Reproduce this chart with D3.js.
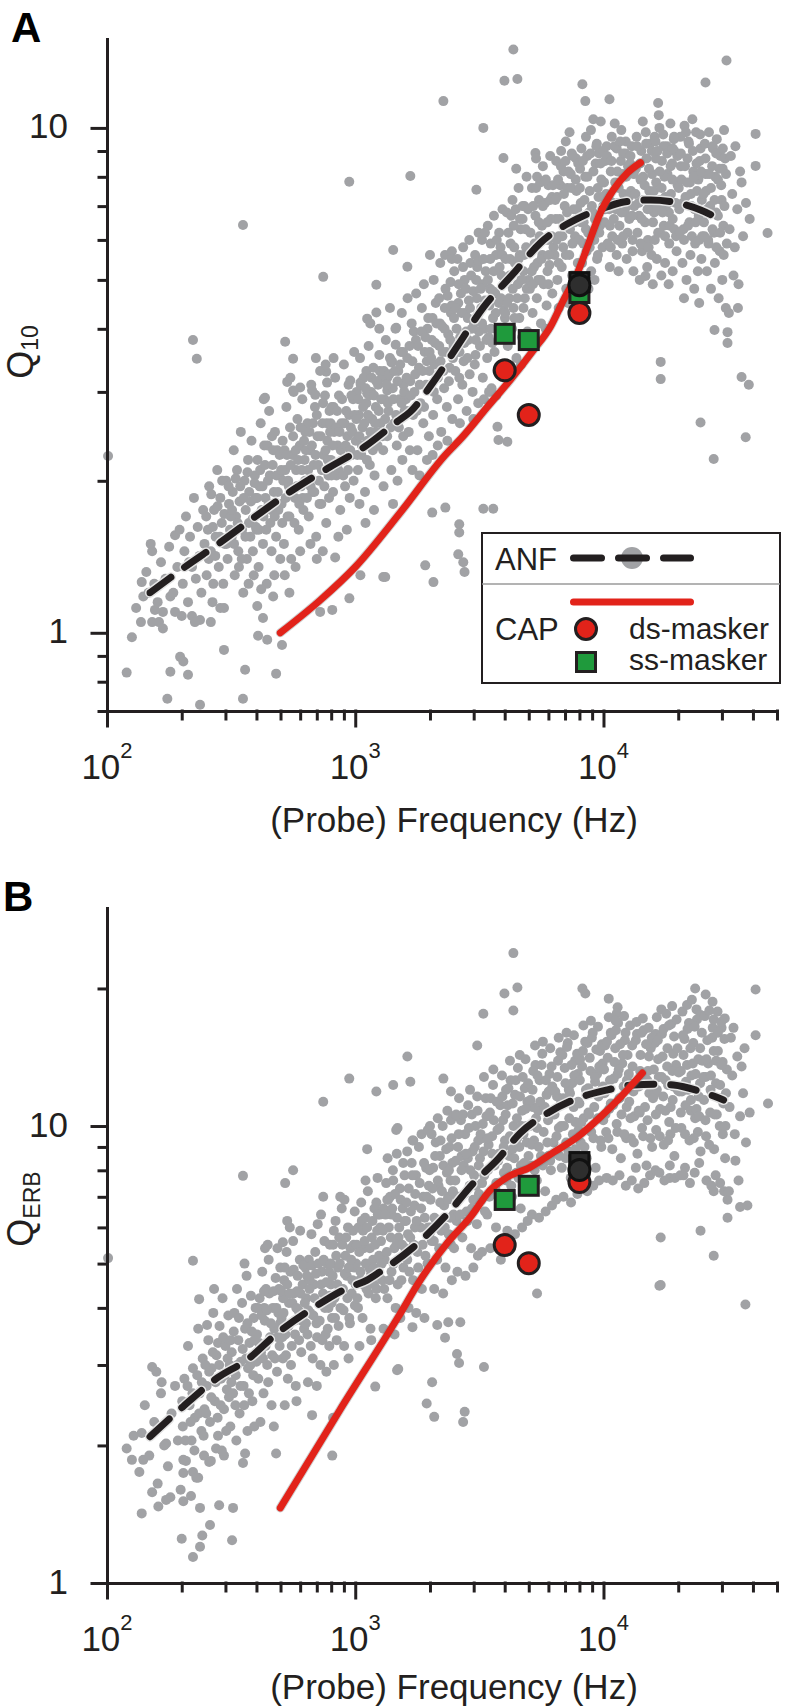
<!DOCTYPE html>
<html><head><meta charset="utf-8">
<script src="https://cdn.jsdelivr.net/npm/d3@7"></script>
<style>
body{margin:0;background:#fff;}
svg{display:block;font-family:"Liberation Sans",Arial,Helvetica,sans-serif;}
</style></head><body>
<svg id="chart" width="786" height="1708"></svg>
<script>
// ---------------- DATA ----------------
const xTicksMajor = [100, 1000, 10000];
const xTickExponents = ["2", "3", "4"];
const xTicksMinor = [200,300,400,500,600,700,800,900,2000,3000,4000,5000,6000,7000,8000,9000,20000,30000,40000,50000];
const yTicksMajor = [1, 10];
const yTicksMinorA = [0.7,0.8,0.9,2,3,4,5,6,7,8,9];
const yTicksMinorB = [2,3,4,5,6,7,8,9,20];

// ANF smoothed trend (dashed) and CAP fit (red) : [frequency Hz, Q]
const anfTrendA = [[149,1.2],[206,1.35],[286,1.51],[403,1.71],[562,1.92],[778,2.12],[1096,2.34],[1476,2.62],[1667,2.74],[2065,3.14],[2600,3.72],[3281,4.41],[4295,5.12],[5572,5.92],[7855,6.61],[10380,6.98],[12050,7.13],[15490,7.2],[19140,7.13],[24600,6.88],[29630,6.58]];
const capFitA = [[499,1.0],[722,1.16],[1000,1.35],[1518,1.73],[2306,2.25],[2698,2.44],[3404,2.8],[4217,3.17],[5222,3.63],[6113,4.04],[6900,4.56],[7855,5.16],[8610,5.81],[9727,6.8],[10970,7.54],[12500,8.15],[14100,8.53]];
const anfTrendB = [[149,2.09],[202,2.43],[278,2.81],[367,3.08],[485,3.52],[678,4.0],[929,4.42],[1117,4.6],[1260,4.8],[1713,5.43],[2349,6.42],[2992,7.5],[3740,8.44],[4624,9.66],[5942,10.67],[7855,11.5],[10380,12.0],[13210,12.3],[16500,12.35],[19140,12.3],[24600,11.9],[30460,11.4]];
const capFitB = [[499,1.46],[871,2.4],[1489,3.82],[1828,4.6],[2349,5.55],[2909,6.32],[3500,7.24],[4100,7.73],[5080,8.13],[6310,8.77],[7855,9.46],[9727,10.47],[11720,11.57],[14350,13.06]];

// CAP markers
const dsMaskerA = [[4000,3.31],[5000,2.70],[8000,4.30]];
const ssMaskerA = [[4000,3.91],[5000,3.80],[8000,4.71]];
const darkSquareA = [[8000,4.95]];
const darkCircleA = [[8000,4.88]];
const dsMaskerB = [[4000,5.49],[5000,5.01],[8000,7.54]];
const ssMaskerB = [[4000,6.89],[5000,7.40],[8000,8.2]];
const darkSquareB = [[8000,8.34]];
const darkCircleB = [[8000,8.01]];

// ANF single-fibre Q10 values
const anfQ10 = [
[946,7.82],[353,6.42],[1422,5.73],[743,5.07],[1216,4.89],[1216,4.31],[1117,4.19],[1462,4.02],[222,3.8],[230,3.49],[522,3.77],[562,3.49],[1250,3.55],[1455,3.72],[764,3.29],[1109,3.3],[532,3.14],[770,3.13],[955,3.16],[433,2.92],[562,3.02],[600,3.06],[670,3.02],[690,2.96],[1050,3.13],[1117,2.98],[1346,3.2],[1400,3.43],[1346,3.02],
[4335,14.3],[3990,12.4],[4500,12.5],[2265,11.3],[8222,12.2],[8450,11.3],[10570,11.4],[31300,13.6],[25760,12.3],[3281,10],[1667,8.03],[3076,7.54],[3953,8.72],[5321,8.92],[1622,5.31],[2000,5.6],[2300,5.6],[2450,5.7],[41000,9.73],[41000,8.41],[45800,6.19],[38800,6.6],[36000,3.21],[38500,3.1],[17000,3.44],[17000,3.18],[14760,5.09],[28000,3.98],[31600,3.94],[31600,3.75],[16070,9.6],
[24600,2.61],[37400,2.44],[27800,2.21],[3740,2.56],[3775,2.41],[4100,2.39],[2307,1.77],[2042,1.73],[3281,1.76],[3597,1.76],[2624,1.64],[2624,1.58],[2600,1.43],[2724,1.38],[2756,1.32],[1914,1.36],[2065,1.26],[1297,1.29],
[101,2.24],[126,0.98],[120,0.834],[152,1.45],[138,1.26],[140,1.18],[152,1.05],[168,1.1],[162,1.05],[168,1.02],[156,1.11],[180,1.18],[188,1.56],[200,1.08],[220,1.08],[237,1.06],[262,1.05],[197,0.896],[203,0.877],[212,0.826],[180,0.837],[175,0.74],[237,0.72],[296,0.925],[286,1.12],[360,0.845],[353,0.74],[406,0.987],[442,0.969],[480,0.83],[507,0.946],[403,1.13],[425,1.07],[467,1.18],[543,1.2],[722,1.1],[808,1.11],[947,1.17],[1049,1.3],[1321,1.29],[830,1.41],
[131,1.12],[137,1.05],[144,1.32],[147,1.2],[150,1.5],[155,1.25],[160,1.15],[165,1.38],[172,1.28],[178,1.48],[185,1.2],[192,1.35],[196,1.6],[188,1.1],
[202,1.25],[205,1.45],[208,1.7],[212,1.15],[216,1.55],[220,1.35],[224,1.85],[228,1.28],[232,1.62],[236,1.42],[240,1.2],[244,1.75],[247,1.5],[226,1.05],[214,1.38],
[252,1.3],[255,1.6],[258,1.95],[262,1.45],[266,1.15],[270,1.75],[274,1.55],[278,2.1],[282,1.35],[286,1.85],[290,1.65],[294,1.25],[298,1.5],[302,2.0],[306,1.4],[310,1.8],[313,1.6],[268,1.25],[296,1.12],
[318,1.55],[321,1.9],[324,2.3],[327,1.3],[331,1.7],[334,2.1],[338,1.45],[342,1.82],[346,2.5],[350,1.6],[354,1.2],[358,2.0],[362,1.75],[366,1.4],[370,2.2],[374,1.9],[378,1.55],[382,2.4],[386,1.68],[390,1.3],[394,2.05],[397,1.85],[340,1.35],[372,1.25],
[400,1.6],[404,2.2],[408,1.35],[412,1.95],[416,2.6],[420,1.75],[425,1.5],[430,2.35],[435,1.85],[440,1.25],[445,2.0],[450,2.75],[455,1.65],[460,1.45],[465,2.15],[470,1.9],[475,2.5],[480,1.55],[485,2.3],[490,1.75],[495,2.05],[499,1.4],[428,2.9],[462,2.45],[418,1.22],[472,1.3],
[505,1.8],[510,2.4],[516,1.5],[522,2.1],[528,2.8],[534,1.7],[540,1.95],[546,2.55],[552,1.4],[558,2.25],[565,3.0],[572,1.85],[578,2.1],[585,2.65],[592,1.6],[598,2.35],[605,1.95],[612,2.9],[618,1.75],[625,2.2],[630,2.5],[548,3.2],[520,1.3],[600,1.45],[575,1.35],
[635,2.0],[642,2.6],[650,1.7],[658,2.3],[665,3.1],[672,1.9],[680,2.15],[688,2.8],[696,1.55],[705,2.45],[714,2.0],[722,3.3],[730,1.8],[738,2.6],[746,2.25],[755,2.95],[764,1.65],[772,2.4],[780,2.05],[788,2.75],[700,1.4],[740,1.45],[660,1.5],[694,3.5],[760,3.4],
[798,2.2],[805,2.8],[814,1.9],[822,2.5],[830,3.2],[840,2.05],[850,2.35],[860,2.95],[870,1.75],[880,2.6],[890,2.2],[900,3.4],[910,1.95],[920,2.75],[930,2.45],[940,3.1],[950,1.85],[960,2.55],[970,2.25],[980,2.9],[990,3.6],[855,1.55],[925,1.6],[985,2.0],[818,3.5],
[1005,2.4],[1015,3.0],[1025,2.1],[1035,2.7],[1045,3.5],[1058,2.25],[1070,2.55],[1082,3.2],[1095,1.9],[1108,2.85],[1120,2.4],[1132,3.7],[1145,2.15],[1158,3.0],[1170,2.65],[1183,3.35],[1196,2.05],[1210,2.8],[1222,2.5],[1236,3.1],[1250,4.0],[1100,1.65],[1190,1.75],[1040,1.8],[1150,4.1],
[1265,2.6],[1280,3.2],[1296,2.3],[1312,2.9],[1328,3.8],[1345,2.45],[1362,2.75],[1380,3.5],[1398,2.1],[1416,3.05],[1434,2.6],[1452,4.0],[1470,2.35],[1490,3.3],[1508,2.9],[1528,3.6],[1548,2.2],[1566,3.1],[1580,2.75],[1300,1.95],[1420,1.8],[1540,4.3],[1380,4.4],[1480,2.0],[1560,2.45],
[1600,2.9],[1620,3.5],[1642,2.5],[1665,3.15],[1688,4.1],[1710,2.7],[1732,3.0],[1756,3.8],[1780,2.3],[1805,3.35],[1830,2.85],[1855,4.4],[1880,2.6],[1905,3.6],[1930,3.1],[1955,4.0],[1980,2.45],[1990,3.3],[1700,2.1],[1815,2.05],[1945,2.2],[1625,4.6],[1760,4.7],[1890,4.9],[1660,2.3],
[2010,3.1],[2035,3.8],[2060,2.7],[2085,3.4],[2110,4.5],[2138,2.9],[2165,3.25],[2192,4.1],[2220,2.5],[2250,3.6],[2280,3.05],[2310,4.8],[2340,2.8],[2370,3.9],[2400,3.35],[2430,4.3],[2460,2.65],[2490,3.7],[2505,5.2],[2070,5.0],[2200,5.4],[2350,2.4],[2150,2.35],[2450,5.5],[2050,2.25],[2290,4.0],[2180,3.7],[2420,4.95],
[2530,3.3],[2560,4.0],[2595,2.9],[2630,3.6],[2665,4.7],[2700,3.1],[2735,3.45],[2770,4.3],[2810,2.75],[2850,3.8],[2890,3.25],[2930,5.1],[2970,3.0],[3010,4.1],[3050,3.55],[3090,4.6],[3130,2.85],[3150,3.95],[2580,5.5],[2720,5.8],[2880,6.0],[3040,5.6],[2640,2.6],[2990,2.65],[2760,5.0],[2900,4.4],[3100,5.3],[2600,4.5],[2800,3.95],[3140,6.2],
[3180,3.7],[3220,4.4],[3265,3.2],[3310,4.0],[3355,5.2],[3400,3.5],[3445,3.85],[3490,4.8],[3540,3.05],[3590,4.2],[3640,3.6],[3690,5.6],[3740,3.3],[3790,4.5],[3840,3.95],[3890,5.1],[3940,3.4],[3970,4.35],[3240,6.0],[3420,6.4],[3620,6.7],[3800,6.2],[3300,2.9],[3700,2.95],[3500,5.5],[3580,4.75],[3850,5.8],[3250,4.9],[3460,3.0],[3920,6.9],
[4010,4.2],[4060,5.0],[4115,3.7],[4170,4.6],[4225,5.9],[4280,4.0],[4340,4.4],[4400,5.4],[4460,3.5],[4520,4.9],[4580,4.2],[4640,6.3],[4700,3.85],[4760,5.2],[4820,4.6],[4880,5.8],[4940,3.95],[4990,5.0],[4080,6.8],[4300,7.2],[4550,7.6],[4800,7.0],[4150,3.3],[4650,3.4],[4350,6.4],[4900,8.0],[4450,8.3],[4720,6.6],[4200,5.5],[4600,5.6],
[5050,4.8],[5110,5.7],[5180,4.3],[5250,5.3],[5320,6.7],[5390,4.6],[5460,5.0],[5530,6.1],[5600,4.1],[5670,5.6],[5740,4.9],[5820,7.1],[5900,4.45],[5980,6.0],[6060,5.35],[6140,6.6],[6220,4.7],[6290,5.8],[5150,7.6],[5400,8.0],[5700,8.4],[6000,7.7],[5250,3.9],[5850,4.0],[5500,7.2],[6100,8.8],[5350,8.7],[5950,5.2],[6200,7.3],[5650,6.4],
[6350,5.6],[6430,6.6],[6520,5.0],[6610,6.1],[6700,7.7],[6790,5.3],[6880,5.8],[6980,7.0],[7080,4.8],[7180,6.4],[7280,5.6],[7380,8.1],[7480,5.1],[7580,6.9],[7680,6.1],[7780,7.5],[7880,5.4],[7930,6.6],[6450,8.6],[6750,9.0],[7050,9.4],[7450,8.9],[6600,4.4],[7200,4.5],[7600,4.9],[6900,8.2],[7300,9.8],[7750,8.7],[6500,7.3],[7150,7.6],
[8000,6.0],[8100,7.1],[8200,5.4],[8320,6.5],[8440,8.0],[8560,5.7],[8680,6.2],[8800,7.5],[8920,5.2],[9050,6.8],[9180,6.0],[9300,8.5],[9420,5.5],[9550,7.3],[9680,6.4],[9800,7.9],[9920,5.8],[9980,7.0],[8150,9.1],[8500,9.6],[8900,9.9],[9400,9.3],[9750,10.3],[8250,4.9],[8700,4.8],[9200,5.0],[8050,8.3],[8600,8.8],[9600,8.9],[9100,10.4],
[10100,6.5],[10250,7.4],[10400,5.9],[10550,6.9],[10700,8.2],[10850,6.1],[11000,6.6],[11150,7.8],[11300,5.6],[11450,7.1],[11600,6.4],[11750,8.6],[11900,5.9],[12050,7.4],[12200,6.8],[12350,8.0],[12500,6.2],[10300,9.2],[10800,9.6],[11300,9.1],[11800,9.9],[12300,9.4],[10600,5.3],[11500,5.2],[12400,5.5],[10150,8.6],[11100,10.2],[12000,8.9],
[12700,6.6],[12900,7.5],[13100,6.0],[13300,7.0],[13500,8.3],[13700,6.2],[13900,6.7],[14100,7.9],[14300,5.7],[14500,7.2],[14700,6.5],[14900,8.7],[15100,6.0],[15300,7.5],[15500,6.9],[15700,8.1],[13000,9.2],[13600,9.6],[14200,9.0],[14800,9.8],[15400,9.3],[13200,5.2],[14000,5.0],[15000,5.3],[15600,5.6],[12800,8.5],[14400,10.3],[15800,4.9],
[16000,6.8],[16300,7.8],[16600,6.2],[16900,7.2],[17200,8.6],[17500,6.4],[17800,6.9],[18100,8.1],[18400,5.9],[18700,7.4],[19000,6.6],[19300,9.0],[19600,6.1],[19900,7.7],[16200,9.4],[16800,10.0],[17400,9.7],[18000,9.2],[18600,10.2],[19200,9.5],[16400,5.5],[17100,5.1],[17700,5.4],[18300,4.9],[19000,5.2],[19700,5.7],[16600,11.2],[16700,10.6],[17600,8.0],[18900,8.5],
[20200,6.9],[20600,7.9],[21000,6.3],[21400,7.3],[21800,8.7],[22200,6.5],[22600,7.0],[23000,8.2],[23400,5.9],[23800,7.5],[24200,6.7],[24600,9.1],[25000,6.1],[20400,9.6],[21200,10.1],[22000,9.4],[22800,10.4],[23600,9.8],[24400,8.6],[20800,5.4],[21600,5.0],[22400,5.6],[23200,4.8],[24000,5.2],[24800,5.5],[20500,8.4],[22300,7.8],[23900,8.0],[21100,4.6],[24300,4.5],
[25400,6.5],[25900,7.5],[26400,6.0],[26900,7.0],[27400,8.4],[27900,6.2],[28400,6.8],[28900,7.9],[29400,5.7],[29900,7.2],[30400,6.4],[30900,8.7],[31400,5.9],[25600,9.3],[26600,9.8],[27600,9.1],[28600,9.5],[29600,8.8],[30600,9.9],[26100,5.2],[27100,4.8],[28100,5.4],[29100,4.6],[30100,5.0],[31100,4.4],[25800,8.1],[28200,8.0],[30200,8.3],
[32200,6.3],[33000,7.4],[33800,5.8],[34600,6.9],[35500,8.2],[32600,8.8],[34000,9.2],[36500,6.1],[37500,7.1],[33400,5.1],[35000,4.9],[36000,7.8],[32000,4.3],[34800,4.4]
];
// dense core of the Q10 cloud
const anfQ10Core = [
[251,1.7],[257,1.4],[263,1.88],[267,1.62],[273,1.42],[279,1.78],[285,1.55],[291,2.0],[297,1.72],[303,1.5],[309,1.95],[315,1.7],
[319,1.75],[325,1.5],[330,2.02],[336,1.65],[344,1.95],[349,1.4],[356,1.85],[361,1.55],[368,2.08],[373,1.65],[380,1.82],[387,1.45],[393,1.98],[398,1.62],
[402,1.85],[409,1.6],[414,2.1],[423,1.95],[427,1.7],[433,2.15],[438,1.6],[443,2.35],[448,1.8],[453,2.05],[458,1.75],[467,2.3],[474,1.7],[482,2.05],[488,1.9],[496,2.25],
[503,2.1],[508,1.65],[513,2.0],[519,2.3],[525,1.85],[531,2.25],[537,2.0],[543,1.7],[550,2.15],[556,1.9],[562,2.45],[569,1.65],[576,2.3],[582,1.95],[588,2.2],[595,1.8],[602,2.55],[609,2.1],[615,1.85],[622,2.4],[628,2.0],
[633,2.3],[639,1.85],[646,2.1],[654,2.5],[661,1.95],[669,2.35],[676,2.6],[684,1.9],[692,2.25],[700,2.7],[709,2.15],[718,1.8],[726,2.45],[734,2.1],[742,2.85],[751,1.95],[759,2.3],[768,2.6],[776,2.2],[784,1.85],[792,2.5],
[796,2.6],[802,2.05],[810,2.35],[818,2.8],[826,2.15],[835,2.55],[845,2.75],[855,2.1],[865,2.5],[875,2.3],[885,2.9],[895,2.05],[905,2.6],[915,2.35],[935,2.1],[945,2.7],[955,2.3],[965,2.95],[975,2.5],[995,2.7],
[1010,2.65],[1020,2.25],[1030,2.9],[1040,2.45],[1052,3.1],[1064,2.35],[1076,2.8],[1088,2.6],[1102,3.05],[1114,2.2],[1126,2.7],[1139,2.95],[1152,2.5],[1164,3.2],[1177,2.3],[1190,2.95],[1203,2.6],[1216,3.15],[1230,2.35],[1244,2.75],[1256,3.3],
[1272,2.9],[1288,2.45],[1304,3.3],[1320,2.65],[1337,3.1],[1354,2.85],[1371,3.25],[1390,2.55],[1407,3.45],[1425,2.9],[1443,3.3],[1461,2.7],[1480,3.15],[1499,2.55],[1518,3.4],[1538,2.85],[1557,3.6],[1575,3.0],
[1610,3.2],[1632,2.75],[1654,3.7],[1676,2.95],[1699,3.45],[1721,3.95],[1744,3.25],[1768,2.75],[1792,3.7],[1818,3.1],[1843,3.95],[1868,3.3],[1893,2.8],[1918,3.85],[1943,3.45],[1968,4.2],[1993,3.6],
[2022,3.5],[2048,4.2],[2072,3.0],[2098,3.75],[2124,4.1],[2151,3.2],[2178,4.6],[2206,3.45],[2235,4.05],[2265,3.3],[2295,4.4],[2325,3.6],[2355,4.65],[2385,3.15],[2415,3.8],[2445,4.45],[2475,3.5],[2500,4.2],
[2545,4.4],[2578,3.6],[2612,4.9],[2648,3.85],[2682,4.3],[2718,5.3],[2752,3.75],[2790,4.8],[2830,3.5],[2870,4.55],[2910,5.4],[2950,4.0],[2990,4.75],[3030,3.4],[3070,5.0],[3110,4.25],[3145,5.45],[2625,3.2],[2840,4.2],[3060,3.8],
[3200,4.8],[3242,4.1],[3288,5.5],[3332,4.55],[3378,3.8],[3422,5.0],[3468,4.45],[3515,5.9],[3565,3.75],[3615,5.2],[3665,4.7],[3715,6.0],[3765,4.0],[3815,5.3],[3865,4.6],[3915,5.6],[3960,4.9],[3330,6.2],[3680,4.3],[3520,4.0],
[4035,5.5],[4090,4.5],[4140,6.2],[4195,5.1],[4250,6.7],[4310,4.8],[4370,5.8],[4430,6.9],[4490,4.6],[4550,5.5],[4610,6.6],[4670,5.0],[4730,7.0],[4790,5.6],[4850,6.3],[4910,4.8],[4970,6.9],[4020,4.3],[4380,4.2],[4760,4.4],
[5080,6.2],[5140,5.2],[5210,7.0],[5280,5.9],[5350,7.6],[5420,5.4],[5490,6.5],[5560,7.8],[5630,5.5],[5700,7.0],[5780,6.0],[5860,7.9],[5940,6.5],[6020,5.6],[6100,7.2],[6180,6.1],[6260,7.7],[5200,4.9],[5580,5.0],[6000,4.9],
[6390,7.2],[6470,6.0],[6560,7.9],[6650,6.6],[6740,8.4],[6830,6.1],[6930,7.4],[7030,8.6],[7130,6.8],[7230,8.2],[7330,6.3],[7430,7.6],[7530,8.8],[7630,6.5],[7730,7.9],[7830,6.9],[7910,8.5],[6600,5.4],[7050,5.6],[7500,5.9],
[8030,7.6],[8140,6.5],[8260,8.6],[8380,7.2],[8500,6.3],[8620,8.0],[8740,6.8],[8860,8.9],[8980,7.0],[9110,8.2],[9240,6.6],[9360,9.2],[9490,7.6],[9620,6.2],[9740,8.5],[9860,7.3],[9960,9.0],[8300,5.9],[8800,5.8],[9500,5.6],
[10050,7.8],[10180,6.9],[10330,8.8],[10470,7.3],[10620,6.4],[10770,8.6],[10920,7.1],[11070,9.2],[11220,6.9],[11370,8.2],[11520,7.6],[11670,9.4],[11820,6.8],[11980,8.1],[12120,7.2],[12270,8.9],[12430,7.0],[12560,8.4],[10700,5.8],[11400,6.0],[12000,6.1],
[12650,7.3],[12850,8.8],[13050,6.7],[13250,8.1],[13450,7.4],[13650,9.2],[13850,7.1],[14050,8.5],[14250,6.6],[14450,8.0],[14650,7.7],[14850,9.3],[15050,6.9],[15250,8.3],[15450,7.2],[15650,9.0],[15830,6.5],[13100,5.7],[14100,5.9],[15200,5.8],
[15950,7.5],[16250,8.7],[16550,7.0],[16850,8.2],[17150,7.6],[17450,9.2],[17750,7.3],[18050,8.9],[18350,6.8],[18650,8.4],[18950,7.9],[19250,9.6],[19550,7.1],[19850,8.8],[16100,6.0],[16900,6.2],[17700,6.1],[18500,6.4],[19300,6.3],[16500,9.0],[17300,6.8],[18200,7.1],[19000,9.1],
[20100,7.6],[20500,8.9],[20900,7.1],[21300,8.4],[21700,7.8],[22100,9.3],[22500,7.4],[22900,9.0],[23300,6.9],[23700,8.5],[24100,7.9],[24500,9.7],[24900,7.2],[20300,6.2],[21100,6.0],[21900,6.4],[22700,6.1],[23500,6.5],[24300,6.0],[21500,9.8],[23100,8.0],[24700,8.2],
[25300,7.4],[25750,8.7],[26200,6.9],[26650,8.1],[27100,7.6],[27550,9.2],[28000,7.2],[28450,8.9],[28900,6.7],[29350,8.3],[29800,7.7],[30250,9.1],[30700,7.0],[31150,8.1],[25500,6.1],[26500,5.9],[27500,6.3],[28500,5.8],[29500,6.2],[30500,5.6]
];

// ANF single-fibre QERB values
const anfQerb = [
[946,12.7],[743,11.3],[1216,11.9],[1422,12.3],[1462,9.8],[1117,8.9],[353,7.78],[522,7.5],[562,8.0],[743,7.0],[101,5.14],[222,5.07],[532,6.2],[1216,6.8],[1346,6.9],[1422,7.6],[433,5.4],[511,5.57],
[4335,23.9],[3990,19.5],[4500,20.1],[4335,17.9],[3281,17.6],[8222,20.0],[8450,19.5],[10500,19.0],[11400,18.2],[11300,17.6],[23400,20.0],[25800,19.4],[27500,18.7],[41000,19.9],[41000,15.8],[46000,11.2],[38800,10.7],[3100,15.0],[1622,14.2],[1667,12.5],[2265,12.7],[2430,11.9],[2000,10.0],[2430,10.3],[1713,9.3],[1480,9.9],[16200,15.9],[18500,7.7],[21000,7.8],[24600,5.9],[27800,5.2],[17000,5.7],[17000,4.49],[27800,7.2],[31600,6.9],[35500,6.65],[38000,6.7],[31600,6.3],[13500,8.1],
[16800,4.47],[37300,4.07],[5400,4.3],[1490,2.94],[2040,2.75],[1940,2.47],[2080,2.31],[2760,2.37],[2720,2.25],[3300,2.97],[2570,3.17],[2620,3.03],[2300,3.44],[2650,3.72],[2370,3.72],[2140,3.67],[1700,3.63],
[152,2.97],[166,2.75],[138,2.13],[120,1.97],[126,1.86],[140,1.86],[152,1.58],[161,1.47],[180,1.54],[173,1.52],[138,1.42],[203,1.51],[200,1.25],[222,1.14],[237,1.2],[242,1.27],[260,1.34],[237,1.46],[283,1.48],[322,1.46],[319,1.24],[173,2.02],[203,1.74],[203,1.86],[222,1.75],[233,1.7],[258,1.84],[275,1.97],[296,1.9],[360,1.92],[353,1.83],[480,1.92],[808,1.9],[235,4.18],[253,3.67],[280,3.35],[1204,2.69],[1474,2.92],[670,2.33],[814,2.3],
[128,2.1],[135,1.75],[142,2.45],[148,1.9],[155,2.25],[160,1.65],[165,2.6],[170,2.0],[176,1.8],[182,2.35],[188,2.7],[193,2.05],[198,1.6],[158,2.9],
[202,2.2],[205,2.8],[208,1.85],[212,3.3],[215,2.45],[219,2.05],[222,2.95],[226,2.3],[229,1.7],[233,3.6],[236,2.6],[240,2.15],[243,3.1],[247,2.4],[218,1.55],[246,1.9],
[252,2.7],[256,3.4],[260,2.25],[264,2.95],[268,3.9],[272,2.5],[276,3.15],[280,2.1],[284,3.65],[288,2.8],[292,4.2],[296,2.4],[300,3.3],[304,2.65],[308,3.85],[312,3.0],[262,1.85],[290,1.95],[314,2.2],[270,4.4],
[318,3.2],[322,2.6],[326,3.9],[330,2.85],[334,4.4],[338,3.4],[342,2.35],[346,3.05],[350,4.1],[355,2.7],[360,3.6],[365,4.7],[370,2.95],[375,3.35],[380,4.25],[385,2.5],[390,3.8],[395,3.1],[332,2.05],[368,2.15],[392,2.2],[358,5.0],
[402,3.5],[407,2.8],[412,4.2],[417,3.2],[422,4.8],[427,2.6],[432,3.75],[437,4.4],[442,3.0],[448,5.1],[454,3.45],[460,2.45],[466,4.0],[472,3.6],[478,4.65],[484,2.9],[490,3.9],[496,3.3],[415,2.25],[470,2.2],[444,5.5],[499,4.9],[430,4.0],[486,5.4],
[505,3.8],[511,3.1],[517,4.6],[523,3.5],[529,5.3],[535,2.8],[541,4.1],[548,4.8],[555,3.3],[562,5.6],[569,3.75],[576,2.7],[583,4.35],[590,3.95],[598,5.1],[606,3.2],[614,4.5],[622,3.6],[630,4.9],[520,2.45],[580,2.5],[545,6.0],[600,5.9],[512,4.2],[566,4.3],
[635,4.2],[642,3.5],[650,5.1],[658,3.9],[666,5.8],[674,3.1],[682,4.5],[690,5.3],[698,3.7],[706,6.1],[715,4.1],[724,3.0],[733,4.8],[742,4.3],[751,5.6],[760,3.5],[770,5.0],[780,4.0],[790,5.5],[645,2.75],[700,2.7],[765,2.9],[728,6.4],[656,4.6],[786,3.3],
[798,4.5],[806,3.8],[815,5.5],[824,4.2],[833,6.2],[842,3.4],[852,4.9],[862,5.7],[872,4.0],[882,6.6],[892,4.4],[902,3.3],[913,5.2],[924,4.7],[935,6.0],[946,3.8],[957,5.4],[968,4.3],[980,5.9],[992,4.9],[820,3.0],[940,3.1],[870,7.0],[995,6.5],[905,6.9],
[1008,5.0],[1020,4.2],[1032,6.0],[1044,4.6],[1057,6.8],[1070,3.8],[1083,5.4],[1096,6.3],[1110,4.4],[1124,7.2],[1138,4.9],[1152,3.6],[1166,5.7],[1180,5.1],[1195,6.6],[1210,4.2],[1225,5.9],[1240,4.7],[1255,6.4],[1040,3.3],[1160,3.4],[1100,7.6],[1230,7.7],[1075,5.9],[1190,4.5],
[1270,5.6],[1285,4.6],[1300,6.6],[1316,5.1],[1332,7.5],[1348,4.2],[1365,6.0],[1382,7.0],[1400,4.8],[1418,8.0],[1436,5.4],[1455,4.0],[1474,6.3],[1494,5.7],[1514,7.3],[1534,4.6],[1554,6.6],[1574,5.2],[1580,7.8],[1300,3.6],[1440,3.5],[1520,3.8],[1350,8.5],[1470,8.7],[1400,6.4],[1560,8.3],
[1600,6.2],[1620,5.1],[1642,7.3],[1665,5.7],[1688,8.3],[1710,4.6],[1732,6.7],[1756,7.8],[1780,5.3],[1805,9.0],[1830,6.0],[1855,4.4],[1880,7.0],[1905,6.3],[1930,8.1],[1955,5.0],[1980,7.4],[1990,5.8],[1640,4.0],[1760,3.9],[1900,3.8],[1700,9.3],[1850,9.6],[1960,9.8],[1620,8.8],[1740,6.0],
[2010,6.9],[2035,5.6],[2060,8.1],[2085,6.3],[2110,9.2],[2138,5.1],[2165,7.4],[2192,8.6],[2220,5.9],[2250,10.0],[2280,6.7],[2310,4.9],[2340,7.9],[2370,7.0],[2400,9.0],[2430,5.5],[2460,8.3],[2490,6.4],[2080,4.4],[2260,4.3],[2450,4.6],[2150,10.4],[2350,10.8],[2480,10.5],[2200,6.8],[2420,7.6],[2030,9.6],[2380,5.8],
[2530,7.6],[2560,6.2],[2595,9.0],[2630,7.0],[2665,10.3],[2700,5.7],[2735,8.2],[2770,9.6],[2810,6.5],[2850,11.1],[2890,7.4],[2930,5.4],[2970,8.8],[3010,7.8],[3050,10.0],[3090,6.1],[3130,9.3],[3150,7.1],[2580,4.8],[2780,4.7],[2990,4.9],[2620,11.5],[2900,12.0],[3100,11.6],[2680,8.0],[2950,6.6],[2550,10.6],[3120,5.2],[2840,8.5],
[3180,8.5],[3220,6.9],[3265,10.1],[3310,7.8],[3355,11.5],[3400,6.4],[3445,9.1],[3490,10.7],[3540,7.2],[3590,12.3],[3640,8.2],[3690,6.0],[3740,9.8],[3790,8.7],[3840,11.1],[3890,6.8],[3940,10.3],[3970,7.9],[3240,5.3],[3500,5.4],[3800,5.6],[3300,12.8],[3600,13.3],[3900,12.9],[3420,8.0],[3700,7.5],[3250,9.4],[3560,9.5],[3860,5.1],
[4010,9.3],[4060,7.6],[4115,11.1],[4170,8.6],[4225,12.6],[4280,7.0],[4340,10.0],[4400,11.7],[4460,7.9],[4520,13.4],[4580,9.0],[4640,6.6],[4700,10.8],[4760,9.6],[4820,12.1],[4880,7.4],[4940,11.3],[4990,8.6],[4100,5.9],[4400,5.8],[4700,6.0],[4950,6.2],[4200,13.9],[4600,14.3],[4850,14.0],[4300,8.9],[4650,8.2],[4050,12.0],[4480,10.4],[4900,10.0],
[5050,10.0],[5110,8.2],[5180,12.0],[5250,9.3],[5320,13.6],[5390,7.6],[5460,10.8],[5530,12.6],[5600,8.6],[5670,14.4],[5740,9.7],[5820,7.2],[5900,11.7],[5980,10.3],[6060,13.0],[6140,8.0],[6220,12.2],[6290,9.2],[5150,6.4],[5500,6.3],[5850,6.5],[6200,6.7],[5300,15.0],[5700,15.3],[6100,14.8],[5400,9.9],[5800,11.0],[6000,8.6],[5200,11.0],
[6350,10.6],[6430,8.7],[6520,12.8],[6610,9.9],[6700,14.5],[6790,8.1],[6880,11.5],[6980,13.4],[7080,9.2],[7180,15.2],[7280,10.4],[7380,7.7],[7480,12.4],[7580,11.0],[7680,13.9],[7780,8.6],[7880,13.0],[7930,9.8],[6450,6.9],[6900,7.0],[7400,6.8],[7850,7.1],[6600,15.6],[7100,16.0],[7600,15.8],[6750,10.0],[7250,12.0],[7700,10.2],[6500,11.6],[7050,8.5],
[8000,11.2],[8100,9.2],[8200,13.5],[8320,10.4],[8440,15.3],[8560,8.5],[8680,12.1],[8800,14.1],[8920,9.7],[9050,16.0],[9180,11.0],[9300,8.1],[9420,13.0],[9550,11.6],[9680,14.6],[9800,9.0],[9920,13.7],[9980,10.3],[8150,7.3],[8600,7.2],[9100,7.4],[9600,7.6],[8300,16.6],[8900,17.0],[9500,16.5],[8700,10.7],[9250,12.5],[9850,11.8],[8050,14.0],
[10100,11.8],[10250,9.7],[10400,14.1],[10550,10.9],[10700,16.0],[10850,8.9],[11000,12.7],[11150,14.8],[11300,10.1],[11450,16.8],[11600,11.5],[11750,8.5],[11900,13.7],[12050,12.2],[12200,15.4],[12350,9.4],[12500,14.3],[10300,7.7],[10900,7.6],[11600,7.8],[12300,7.4],[10500,17.3],[11200,17.0],[12100,17.4],[10700,11.2],[11400,13.0],[12400,11.0],[10150,15.0],
[12700,11.3],[12900,9.4],[13100,13.5],[13300,10.5],[13500,15.4],[13700,8.7],[13900,12.2],[14100,14.3],[14300,9.9],[14500,16.2],[14700,11.0],[14900,8.2],[15100,13.2],[15300,11.8],[15500,14.8],[15700,9.0],[13000,7.6],[13800,7.3],[14600,7.5],[15400,7.8],[12800,16.6],[13600,16.9],[14400,17.2],[15200,16.4],[13200,11.9],[14000,10.7],[15000,12.6],[15800,12.2],
[16000,11.7],[16300,9.8],[16600,14.0],[16900,10.9],[17200,15.9],[17500,9.1],[17800,12.6],[18100,14.8],[18400,10.2],[18700,16.7],[19000,11.4],[19300,8.6],[19600,13.6],[19900,12.0],[16200,8.0],[16800,7.9],[17600,7.6],[18500,8.2],[19400,7.7],[16400,17.3],[17100,18.0],[17900,17.6],[18900,18.3],[19700,17.1],[16700,12.8],[17400,11.6],[18200,12.3],[19100,14.4],[16100,15.2],[18600,9.6],
[20200,11.9],[20600,9.9],[21000,14.3],[21400,11.1],[21800,16.3],[22200,9.3],[22600,12.9],[23000,15.2],[23400,10.4],[23800,17.1],[24200,11.6],[24600,8.8],[25000,13.9],[20400,7.8],[21300,8.1],[22300,7.5],[23300,7.9],[24300,8.3],[20800,17.8],[21700,18.4],[22700,18.9],[23700,18.0],[24600,17.5],[20500,13.2],[21500,12.5],[22500,10.8],[23500,13.0],[24500,14.8],[21200,15.5],[24000,9.7],
[25400,11.4],[25900,9.5],[26400,13.7],[26900,10.7],[27400,15.6],[27900,8.9],[28400,12.4],[28900,14.6],[29400,10.0],[29900,16.4],[30400,11.2],[30900,8.5],[31400,13.3],[25600,17.4],[26700,17.9],[27800,17.1],[28800,17.8],[29800,16.9],[30800,17.2],[26000,7.6],[27200,7.4],[28300,7.8],[29500,7.5],[30600,7.2],[25800,12.8],[27000,12.0],[28600,10.6],[30200,13.8],
[32200,11.0],[33000,12.9],[33800,9.6],[34600,14.2],[35500,10.5],[32600,15.6],[34000,8.4],[36500,11.8],[37500,9.2],[33400,16.4],[35000,7.6],[36000,13.5],[32000,7.2],[37000,14.8]
];
// dense core of the QERB cloud
const anfQerbCore = [
[201,2.5],[207,2.05],[211,2.7],[217,2.25],[221,2.6],[225,1.95],[231,2.85],[235,2.35],[241,2.75],[245,2.1],[249,3.0],
[251,2.35],[258,2.9],[263,2.55],[267,3.2],[274,2.75],[279,2.3],[283,3.0],[287,2.45],[294,3.45],[298,2.85],[302,2.15],[306,3.1],[310,2.55],[315,3.4],
[317,2.75],[324,3.55],[329,2.45],[335,3.0],[340,3.8],[345,2.7],[352,3.25],[357,2.45],[363,3.1],[368,3.7],[373,2.6],[378,3.0],[383,3.55],[388,2.85],[393,3.4],[397,4.0],
[400,3.05],[405,4.0],[410,3.35],[419,3.85],[425,3.1],[429,4.35],[435,3.3],[440,3.95],[446,2.75],[451,4.3],[457,3.7],[463,3.15],[469,4.35],[475,3.1],[481,4.0],[487,3.45],[493,4.4],[498,3.7],
[503,4.35],[508,3.45],[514,3.9],[520,4.9],[526,3.15],[532,4.5],[538,3.65],[544,4.3],[551,3.0],[558,4.1],[565,4.85],[572,3.5],[579,4.0],[586,4.7],[594,3.4],[602,4.3],[610,3.75],[618,4.95],[626,4.1],
[633,3.7],[639,4.7],[647,3.95],[654,4.4],[662,3.3],[670,4.95],[678,3.85],[686,4.2],[694,4.75],[702,3.45],[711,5.0],[719,3.75],[728,4.5],[737,3.4],[746,5.1],[755,4.0],[765,4.55],[775,3.6],[785,4.8],[792,4.25],
[796,5.0],[803,4.1],[811,4.7],[820,5.9],[829,3.8],[838,5.2],[847,4.5],[857,3.65],[867,5.0],[877,4.4],[887,5.5],[897,3.95],[908,4.75],[919,5.7],[930,4.2],[941,4.9],[952,3.7],[963,5.1],[974,4.6],[986,5.5],[997,4.05],
[1004,4.5],[1014,5.5],[1026,4.0],[1038,5.3],[1050,4.8],[1063,6.2],[1077,4.5],[1090,5.6],[1103,5.0],[1117,6.0],[1131,4.3],[1145,5.4],[1159,4.75],[1173,6.2],[1187,4.9],[1202,5.5],[1218,4.4],[1233,6.4],[1248,5.2],
[1262,6.0],[1278,5.0],[1293,5.9],[1308,4.4],[1324,6.4],[1340,5.3],[1357,6.9],[1374,4.6],[1391,5.7],[1409,6.6],[1427,5.0],[1446,7.1],[1465,5.5],[1484,4.5],[1504,6.0],[1524,6.9],[1544,5.5],[1564,4.9],[1584,6.2],
[1590,5.4],[1610,6.8],[1631,5.8],[1653,4.8],[1676,6.5],[1699,7.8],[1721,5.5],[1744,7.1],[1768,6.2],[1793,4.9],[1818,7.5],[1843,6.6],[1868,5.5],[1893,8.3],[1918,5.2],[1943,7.0],[1968,6.0],[1993,8.0],
[2022,6.0],[2048,7.3],[2072,5.6],[2098,8.6],[2124,6.2],[2151,7.6],[2178,5.4],[2206,9.3],[2235,7.2],[2265,8.2],[2295,6.0],[2325,8.9],[2355,6.9],[2385,8.0],[2415,6.3],[2445,9.4],[2475,7.2],[2500,5.4],
[2545,8.4],[2578,7.0],[2612,9.6],[2648,6.4],[2682,8.6],[2718,10.6],[2752,7.1],[2790,8.7],[2830,6.2],[2870,9.9],[2910,8.0],[2950,10.6],[2990,6.9],[3030,9.0],[3070,7.4],[3110,10.8],[3145,8.2],
[3200,9.6],[3242,7.5],[3288,8.8],[3332,6.5],[3378,10.5],[3422,9.4],[3468,7.0],[3515,11.5],[3565,8.7],[3615,10.3],[3665,7.3],[3715,11.3],[3765,8.4],[3815,9.9],[3865,7.1],[3915,11.6],[3960,9.0],
[4035,10.6],[4090,8.1],[4140,12.1],[4195,9.5],[4250,7.4],[4310,11.2],[4370,8.5],[4430,12.6],[4490,9.4],[4550,7.7],[4610,11.6],[4670,10.0],[4730,12.8],[4790,8.3],[4850,10.9],[4910,9.2],[4970,12.4],
[5080,11.4],[5140,9.1],[5210,13.2],[5280,8.0],[5350,10.4],[5420,12.9],[5490,9.0],[5560,11.3],[5630,13.6],[5700,8.2],[5780,10.9],[5860,12.6],[5940,9.2],[6020,11.9],[6100,8.4],[6180,13.5],[6260,10.6],
[6390,11.9],[6470,9.5],[6560,13.9],[6650,8.6],[6740,11.2],[6830,14.3],[6930,10.0],[7030,12.4],[7130,14.9],[7230,8.8],[7330,11.8],[7430,13.6],[7530,9.6],[7630,12.9],[7730,8.9],[7830,14.4],[7910,11.3],
[8030,12.6],[8140,10.2],[8260,14.6],[8380,9.0],[8500,12.0],[8620,15.2],[8740,10.6],[8860,13.2],[8980,15.6],[9110,9.4],[9240,12.8],[9360,14.7],[9490,10.4],[9620,13.5],[9740,9.3],[9860,15.1],[9960,12.2],
[10050,13.3],[10180,10.6],[10330,15.3],[10470,9.4],[10620,12.6],[10770,15.8],[10920,11.1],[11070,13.8],[11220,16.2],[11370,9.7],[11520,13.3],[11670,15.1],[11820,10.6],[11980,14.3],[12120,9.6],[12270,16.0],[12430,12.6],
[12650,13.0],[12850,10.4],[13050,15.0],[13250,9.2],[13450,12.4],[13650,15.9],[13850,10.8],[14050,13.2],[14250,16.0],[14450,9.5],[14650,12.8],[14850,15.1],[15050,10.3],[15250,14.2],[15450,9.4],[15650,15.6],[15830,11.5],
[15950,13.3],[16250,10.6],[16550,15.4],[16850,9.5],[17150,12.8],[17450,16.3],[17750,10.8],[18050,13.5],[18350,16.6],[18650,11.0],[18950,13.2],[19250,15.7],[19550,9.9],[19850,14.8],[16400,12.0],[17300,14.2],[18200,9.3],[19100,12.2],
[20100,13.1],[20500,10.7],[20900,15.8],[21300,9.6],[21700,13.6],[22100,16.8],[22500,11.4],[22900,13.7],[23300,16.5],[23700,10.9],[24100,14.0],[24500,12.4],[24900,16.0],[20700,11.9],[21900,12.0],[23100,9.4],[24300,10.5],[22400,14.8],
[25300,12.8],[25750,10.3],[26200,15.4],[26650,9.1],[27100,12.9],[27550,16.4],[28000,10.6],[28450,13.9],[28900,16.0],[29350,11.5],[29800,13.6],[30250,9.6],[30700,15.5],[31150,11.8],[26000,14.0],[27800,14.6],[29500,12.3],[31000,10.0]
];

// ---------------- DRAWING ----------------
const svg = d3.select("#chart");
const INK = "#231f20", GRAY = "#a1a2a5", RED = "#e2231a", GREEN = "#1f9a3c";
const x = d3.scaleLog().domain([100, 50000]).range([107, 777]);

function drawPanel(cfg) {
  const y = d3.scaleLog().domain(cfg.yDomain).range(cfg.yRange);
  const g = svg.append("g");
  const y0 = cfg.yRange[0];

  // scatter
  g.append("g").selectAll("circle").data(cfg.scatter).join("circle")
    .attr("cx", d => x(d[0])).attr("cy", d => y(d[1])).attr("r", 5).attr("fill", GRAY);

  const line = d3.line().x(d => x(d[0])).y(d => y(d[1])).curve(d3.curveMonotoneX);
  g.append("path").attr("d", line(cfg.anf)).attr("fill", "none").attr("stroke", "#e4e4e4")
    .attr("stroke-width", 10).attr("stroke-dasharray", "26,17").attr("stroke-linecap", "round");
  g.append("path").attr("d", line(cfg.anf)).attr("fill", "none").attr("stroke", INK)
    .attr("stroke-width", 7).attr("stroke-dasharray", "26,17").attr("stroke-linecap", "round");
  g.append("path").attr("d", line(cfg.cap)).attr("fill", "none").attr("stroke", "rgba(120,120,120,0.35)")
    .attr("stroke-width", 9).attr("stroke-linecap", "round");
  g.append("path").attr("d", line(cfg.cap)).attr("fill", "none").attr("stroke", RED)
    .attr("stroke-width", 7).attr("stroke-linecap", "round");

  const mk = g.append("g");
  mk.selectAll("rect.ss").data(cfg.ss).join("rect").attr("class", "ss")
    .attr("x", d => x(d[0]) - 9.5).attr("y", d => y(d[1]) - 9.5).attr("width", 19).attr("height", 19)
    .attr("fill", GREEN).attr("stroke", INK).attr("stroke-width", 3);
  mk.selectAll("circle.ds").data(cfg.ds).join("circle").attr("class", "ds")
    .attr("cx", d => x(d[0])).attr("cy", d => y(d[1])).attr("r", 10.5)
    .attr("fill", RED).attr("stroke", INK).attr("stroke-width", 3);
  mk.selectAll("rect.dk").data(cfg.darkSq).join("rect").attr("class", "dk")
    .attr("x", d => x(d[0]) - 9.5).attr("y", d => y(d[1]) - 9.5).attr("width", 19).attr("height", 19)
    .attr("fill", "#2a2a2a").attr("stroke", "#111").attr("stroke-width", 3);
  mk.selectAll("circle.dk").data(cfg.darkCi).join("circle").attr("class", "dk")
    .attr("cx", d => x(d[0])).attr("cy", d => y(d[1])).attr("r", 10.5)
    .attr("fill", "#2e2e2e").attr("stroke", "#111").attr("stroke-width", 3);

  const style = sel => {
    sel.selectAll(".domain, .tick line").attr("stroke", INK).attr("stroke-width", 3).attr("stroke-linecap", "square");
    sel.selectAll(".tick text").remove();
  };
  const ax = g.append("g");
  ax.append("g").attr("transform", `translate(${x(100)},0)`)
    .call(d3.axisLeft(y).tickValues(cfg.yMinor).tickSize(8).tickSizeOuter(0).tickFormat(() => "")).call(style);
  ax.append("g").attr("transform", `translate(${x(100)},0)`)
    .call(d3.axisLeft(y).tickValues(yTicksMajor).tickSize(15).tickSizeOuter(0).tickFormat(() => "")).call(style);
  ax.append("g").attr("transform", `translate(0,${y0})`)
    .call(d3.axisBottom(x).tickValues(xTicksMinor).tickSize(8).tickSizeOuter(0).tickFormat(() => "")).call(style);
  ax.append("g").attr("transform", `translate(0,${y0})`)
    .call(d3.axisBottom(x).tickValues(xTicksMajor).tickSize(15).tickSizeOuter(0).tickFormat(() => "")).call(style);

  g.selectAll("text.ylab").data(yTicksMajor).join("text").attr("class", "ylab")
    .attr("x", 68).attr("y", d => y(d) + 10.5).attr("text-anchor", "end")
    .attr("font-size", 35).attr("fill", INK).text(d => d);
  xTicksMajor.forEach((v, i) => {
    const t = g.append("text").attr("x", x(v)).attr("y", y0 + 68).attr("text-anchor", "middle")
      .attr("font-size", 35).attr("fill", INK);
    t.append("tspan").text("10");
    t.append("tspan").attr("dy", -21).attr("font-size", 22).text(xTickExponents[i]);
  });
  g.append("text").attr("x", 454).attr("y", cfg.titleY).attr("text-anchor", "middle")
    .attr("font-size", 35).attr("fill", INK).text("(Probe) Frequency (Hz)");
  const yt = g.append("text").attr("transform", `translate(33,${cfg.yLabelY}) rotate(-90)`)
    .attr("text-anchor", "middle").attr("font-size", 36).attr("fill", INK);
  yt.append("tspan").text("Q");
  yt.append("tspan").attr("dy", cfg.subDy).attr("font-size", 23).text(cfg.sub);
  g.append("text").attr("x", cfg.letterX).attr("y", cfg.letterY).attr("font-size", 42)
    .attr("font-weight", "bold").attr("fill", "#000").text(cfg.letter);
  return y;
}

drawPanel({ yDomain: [0.7, 15], yRange: [711, 39], scatter: anfQ10.concat(anfQ10Core), anf: anfTrendA, cap: capFitA,
  ds: dsMaskerA, ss: ssMaskerA, darkSq: darkSquareA, darkCi: darkCircleA, yMinor: yTicksMinorA,
  titleY: 832, yLabelY: 352, sub: "10", subDy: 5, letter: "A", letterX: 11, letterY: 42 });
drawPanel({ yDomain: [1, 30], yRange: [1583, 908], scatter: anfQerb.concat(anfQerbCore), anf: anfTrendB, cap: capFitB,
  ds: dsMaskerB, ss: ssMaskerB, darkSq: darkSquareB, darkCi: darkCircleB, yMinor: yTicksMinorB,
  titleY: 1699, yLabelY: 1209, sub: "ERB", subDy: 7, letter: "B", letterX: 3, letterY: 911 });

// legend (panel A)
const lg = svg.append("g");
lg.append("rect").attr("x", 482).attr("y", 533).attr("width", 298).attr("height", 150)
  .attr("fill", "#fff").attr("stroke", INK).attr("stroke-width", 2);
lg.append("line").attr("x1", 482).attr("x2", 780).attr("y1", 584).attr("y2", 584)
  .attr("stroke", "#9a9a9a").attr("stroke-width", 1.5);
lg.append("text").attr("x", 495).attr("y", 570).attr("font-size", 31).attr("fill", INK).text("ANF");
lg.append("circle").attr("cx", 632).attr("cy", 558).attr("r", 11).attr("fill", GRAY);
[[573.5, 601.5], [618.5, 646.5], [663.5, 690.5]].forEach(s => {
  lg.append("line").attr("x1", s[0]).attr("x2", s[1]).attr("y1", 558).attr("y2", 558)
    .attr("stroke", INK).attr("stroke-width", 7).attr("stroke-linecap", "round");
});
lg.append("line").attr("x1", 573.5).attr("x2", 690.5).attr("y1", 602).attr("y2", 602)
  .attr("stroke", RED).attr("stroke-width", 7).attr("stroke-linecap", "round");
lg.append("text").attr("x", 495).attr("y", 640).attr("font-size", 31).attr("fill", INK).text("CAP");
lg.append("circle").attr("cx", 586).attr("cy", 629).attr("r", 10.5).attr("fill", RED)
  .attr("stroke", INK).attr("stroke-width", 3);
lg.append("text").attr("x", 629).attr("y", 639).attr("font-size", 30).attr("fill", INK).text("ds-masker");
lg.append("rect").attr("x", 576.5).attr("y", 652.5).attr("width", 19).attr("height", 19).attr("fill", GREEN)
  .attr("stroke", INK).attr("stroke-width", 3);
lg.append("text").attr("x", 629).attr("y", 670).attr("font-size", 30).attr("fill", INK).text("ss-masker");
</script></body></html>
